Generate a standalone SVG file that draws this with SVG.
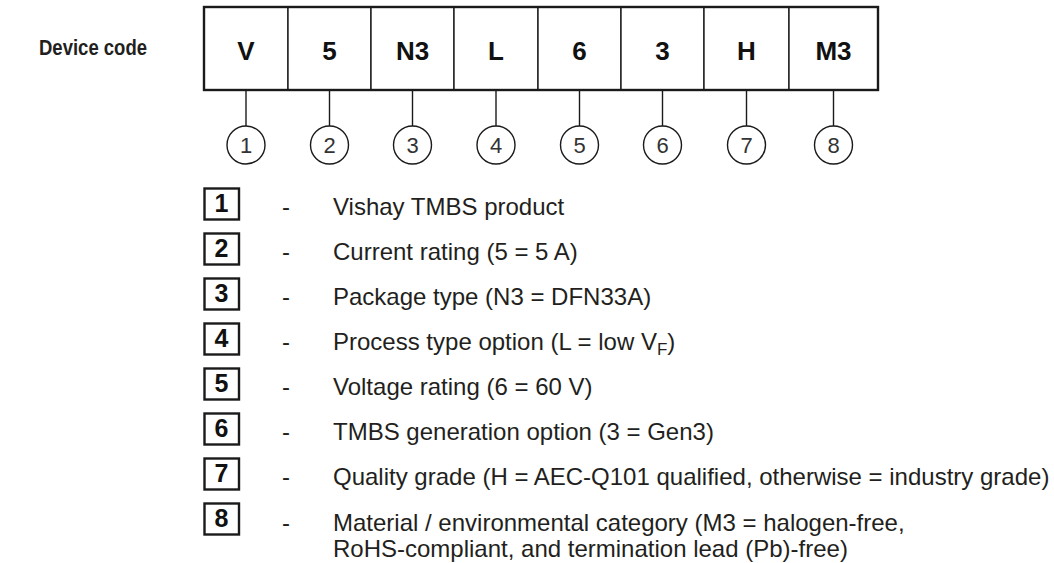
<svg xmlns="http://www.w3.org/2000/svg" width="1054" height="563" viewBox="0 0 1054 563">
<style>
  .cell { fill: #fff; stroke: #1a1a1a; stroke-width: 1.4; }
  .outer { fill: none; stroke: #1a1a1a; stroke-width: 2.4; }
  .ctext { font-family: "Liberation Sans", Arial, sans-serif; font-weight: bold; font-size: 26px; fill: #111; text-anchor: middle; }
  .circ { fill: #fff; stroke: #1a1a1a; stroke-width: 1.4; }
  .ntext { font-family: "Liberation Sans", Arial, sans-serif; font-size: 22px; fill: #333; text-anchor: middle; }
  .lead { stroke: #1a1a1a; stroke-width: 1.4; fill: none; }
  .lbox { fill: #fff; stroke: #1a1a1a; stroke-width: 2.4; }
  .lnum { font-family: "Liberation Sans", Arial, sans-serif; font-weight: bold; font-size: 25px; fill: #111; text-anchor: middle; }
  .ltext { font-family: "Liberation Sans", Arial, sans-serif; font-size: 24px; fill: #231f20; }
  .dash { font-family: "Liberation Sans", Arial, sans-serif; font-size: 24px; fill: #231f20; text-anchor: middle; }
  .title { font-family: "Liberation Sans", Arial, sans-serif; font-weight: bold; font-size: 22px; fill: #231f20; }
</style>
<rect width="1054" height="563" fill="#fff"/>
<text class="title" x="39" y="54.5" textLength="108" lengthAdjust="spacingAndGlyphs">Device code</text>

<g id="connectors">
  <line class="lead" x1="246" y1="90" x2="246" y2="126"/>
  <line class="lead" x1="329.5" y1="90" x2="329.5" y2="126"/>
  <line class="lead" x1="412.5" y1="90" x2="412.5" y2="126"/>
  <line class="lead" x1="496" y1="90" x2="496" y2="126"/>
  <line class="lead" x1="579.5" y1="90" x2="579.5" y2="126"/>
  <line class="lead" x1="662.5" y1="90" x2="662.5" y2="126"/>
  <line class="lead" x1="746.5" y1="90" x2="746.5" y2="126"/>
  <line class="lead" x1="833.5" y1="90" x2="833.5" y2="126"/>
</g>

<g id="code-cells">
  <g id="cell-1"><rect class="cell" x="204" y="7" width="84" height="83"/><text class="ctext" x="246" y="59.5">V</text></g>
  <g id="cell-2"><rect class="cell" x="288" y="7" width="83" height="83"/><text class="ctext" x="329.5" y="59.5">5</text></g>
  <g id="cell-3"><rect class="cell" x="371" y="7" width="83" height="83"/><text class="ctext" x="412.5" y="59.5">N3</text></g>
  <g id="cell-4"><rect class="cell" x="454" y="7" width="84" height="83"/><text class="ctext" x="496" y="59.5">L</text></g>
  <g id="cell-5"><rect class="cell" x="538" y="7" width="83" height="83"/><text class="ctext" x="579.5" y="59.5">6</text></g>
  <g id="cell-6"><rect class="cell" x="621" y="7" width="83" height="83"/><text class="ctext" x="662.5" y="59.5">3</text></g>
  <g id="cell-7"><rect class="cell" x="704" y="7" width="85" height="83"/><text class="ctext" x="746.5" y="59.5">H</text></g>
  <g id="cell-8"><rect class="cell" x="789" y="7" width="89" height="83"/><text class="ctext" x="833.5" y="59.5">M3</text></g>
  <rect class="outer" x="204" y="7" width="674" height="83"/>
</g>

<g id="circle-1"><circle class="circ" cx="246" cy="145" r="19"/><text class="ntext" x="246" y="153">1</text></g>
<g id="circle-2"><circle class="circ" cx="329.5" cy="145" r="19"/><text class="ntext" x="329.5" y="153">2</text></g>
<g id="circle-3"><circle class="circ" cx="412.5" cy="145" r="19"/><text class="ntext" x="412.5" y="153">3</text></g>
<g id="circle-4"><circle class="circ" cx="496" cy="145" r="19"/><text class="ntext" x="496" y="153">4</text></g>
<g id="circle-5"><circle class="circ" cx="579.5" cy="145" r="19"/><text class="ntext" x="579.5" y="153">5</text></g>
<g id="circle-6"><circle class="circ" cx="662.5" cy="145" r="19"/><text class="ntext" x="662.5" y="153">6</text></g>
<g id="circle-7"><circle class="circ" cx="746.5" cy="145" r="19"/><text class="ntext" x="746.5" y="153">7</text></g>
<g id="circle-8"><circle class="circ" cx="833.5" cy="145" r="19"/><text class="ntext" x="833.5" y="153">8</text></g>

<g id="legend-1"><rect class="lbox" x="204.5" y="188.5" width="34.5" height="31"/><text class="lnum" x="221.5" y="212">1</text><text class="dash" x="286" y="215">-</text><text class="ltext" x="333" y="215">Vishay TMBS product</text></g>
<g id="legend-2"><rect class="lbox" x="204.5" y="233.5" width="34.5" height="31"/><text class="lnum" x="221.5" y="257">2</text><text class="dash" x="286" y="260">-</text><text class="ltext" x="333" y="260">Current rating (5 = 5 A)</text></g>
<g id="legend-3"><rect class="lbox" x="204.5" y="278.5" width="34.5" height="31"/><text class="lnum" x="221.5" y="302">3</text><text class="dash" x="286" y="305">-</text><text class="ltext" x="333" y="305">Package type (N3 = DFN33A)</text></g>
<g id="legend-4"><rect class="lbox" x="204.5" y="323.5" width="34.5" height="31"/><text class="lnum" x="221.5" y="347">4</text><text class="dash" x="286" y="350">-</text><text class="ltext" x="333" y="350">Process type option (L = low V<tspan font-size="17" dy="5">F</tspan><tspan dy="-5">)</tspan></text></g>
<g id="legend-5"><rect class="lbox" x="204.5" y="368.5" width="34.5" height="31"/><text class="lnum" x="221.5" y="392">5</text><text class="dash" x="286" y="395">-</text><text class="ltext" x="333" y="395">Voltage rating (6 = 60 V)</text></g>
<g id="legend-6"><rect class="lbox" x="204.5" y="413.5" width="34.5" height="31"/><text class="lnum" x="221.5" y="437">6</text><text class="dash" x="286" y="440">-</text><text class="ltext" x="333" y="440">TMBS generation option (3 = Gen3)</text></g>
<g id="legend-7"><rect class="lbox" x="204.5" y="458.5" width="34.5" height="31"/><text class="lnum" x="221.5" y="482">7</text><text class="dash" x="286" y="485">-</text><text class="ltext" x="333" y="485">Quality grade (H = AEC-Q101 qualified, otherwise = industry grade)</text></g>
<g id="legend-8"><rect class="lbox" x="204.5" y="503.5" width="34.5" height="31"/><text class="lnum" x="221.5" y="527">8</text><text class="dash" x="286" y="531">-</text><text class="ltext" x="333" y="531">Material / environmental category (M3 = halogen-free,</text><text class="ltext" x="333" y="557">RoHS-compliant, and termination lead (Pb)-free)</text></g>
</svg>
